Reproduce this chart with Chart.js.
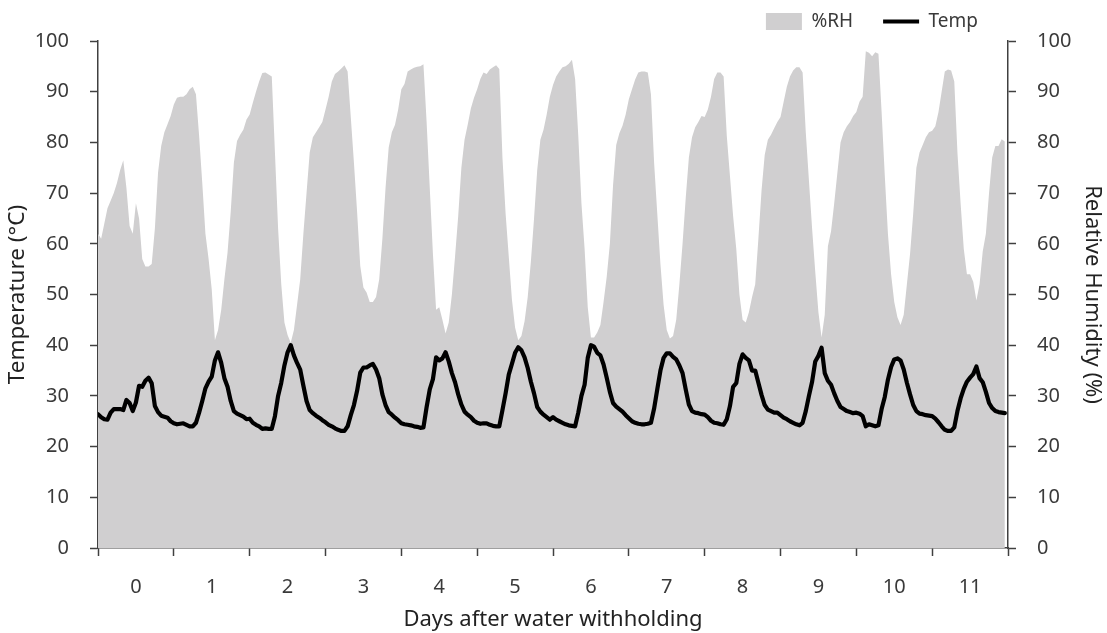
<!DOCTYPE html>
<html>
<head>
<meta charset="utf-8">
<script src="https://cdn.jsdelivr.net/npm/chart.js@4.4.0/dist/chart.umd.min.js"></script>
<style>
html,body{margin:0;padding:0;background:#ffffff;}
#wrap{width:1107px;height:633px;}
</style>
</head>
<body>
<div id="wrap"><canvas id="c" width="1107" height="633"></canvas></div>
<script>
// ---- Data (hourly readings, day 0 .. day 11) ----
const dayLabels = ['0','1','2','3','4','5','6','7','8','9','10','11'];

const rhDay0  = [62,61,64,67,68.5,70,72,74.5,76.5,71,63.5,62,68,65,57,55.5,55.5,56,63,74,79.3,82,83.6,85.2];
const rhDay1  = [87.5,88.8,89,89,89.5,90.5,91,89.5,81.3,72,62,57,51,41,43,47,53,58.3,66.3,76,80.3,81.5,82.5,84.5];
const rhDay2  = [85.5,87.8,90,92,93.7,93.8,93.4,93,78,63,52,44.5,42,40.5,43,48,53,62,70,78,81,82,83,84];
const rhDay3  = [86.5,89,92,93.5,94,94.6,95.2,94,85,76,66.3,55.6,51.4,50.4,48.5,48.5,49.5,53,61,71,79,82,83.5,86.5];
const rhDay4  = [90.5,91.5,94,94.4,94.7,94.9,95,95.4,84,71,58,47,47.5,45,42.3,44.5,50,57.5,65.5,75,80.5,83.5,86.7,88.8];
const rhDay5  = [90.5,92.5,93.8,93.5,94.4,94.8,95.2,94.5,77,66,57.5,49,43.5,41,41.8,44.7,49.5,56.5,65,74.5,80.5,82.5,85.5,89];
const rhDay6  = [91.3,93,94,94.8,95,95.5,96.3,92.5,81.3,68,59,47.5,41.5,41.5,42.5,44,48.5,53.5,60,71.5,79.5,81.8,83.3,85.5];
const rhDay7  = [88.5,90.5,92.4,93.8,94,94,93.8,89.5,76,66,56,48,43,41.3,41.8,45,52,60,69,77,81,83,84,85.2];
const rhDay8  = [85,86.5,89,92.5,93.8,93.8,93,81.3,73.4,65.5,59,50,45,44.5,46.5,49.5,52,61,70.5,77.5,80.5,81.5,82.8,84];
const rhDay9  = [85,88,91,93,94.2,94.8,94.8,93.8,82,72.5,63,54.5,46.5,41.5,46,59.5,62.5,68,74,80,82,83.2,84,85.2];
const rhDay10 = [86,88,89,98,97.7,97,97.8,97.5,86,73.5,62,54,48.5,45.5,44,46,52,58,66,75,78,79.5,81,82];
const rhDay11 = [82.3,83.2,86,90,94,94.4,94.2,92,78,68,59,54,54,52.5,48.8,52,58.5,62,70,77,79.3,79.3,80.6,80.2];

const tempDay0  = [26.4,25.8,25.4,25.3,26.7,27.4,27.4,27.4,27.2,29.2,28.6,27,28.7,32,31.8,33,33.6,32.5,28,26.8,26.1,25.9,25.7,25];
const tempDay1  = [24.6,24.4,24.5,24.6,24.3,24,24,24.7,26.7,29,31.5,32.8,33.8,37,38.6,36.5,33.5,31.8,29,27,26.5,26.2,25.9,25.4];
const tempDay2  = [25.5,24.7,24.3,24,23.5,23.6,23.5,23.5,26,30,32.6,36,38.6,40,38,36.5,35.2,32,29,27.2,26.6,26.1,25.7,25.2];
const tempDay3  = [24.8,24.3,24,23.6,23.3,23.1,23.1,24,26.2,28.2,31,34.6,35.6,35.6,36,36.3,35.2,33.5,30.3,28.2,26.8,26.3,25.7,25.2];
const tempDay4  = [24.6,24.4,24.3,24.2,24,23.9,23.7,23.8,27.8,31.3,33.3,37.6,37,37.4,38.6,36.8,34.5,32.7,30.3,28.3,26.9,26.3,25.8,25.1];
const tempDay5  = [24.7,24.5,24.6,24.6,24.3,24.1,24,24,27.2,30.5,34.2,36.3,38.5,39.6,39,37.6,35.5,32.8,30.5,27.8,26.9,26.3,25.8,25.3];
const tempDay6  = [25.8,25.3,25,24.7,24.4,24.2,24.1,24,26.7,30,32.2,37.5,40,39.7,38.5,38,36.2,33.6,30.8,28.6,27.9,27.4,26.9,26.2];
const tempDay7  = [25.6,25,24.7,24.5,24.4,24.4,24.5,24.7,27.5,31.3,35,37.5,38.4,38.4,37.7,37.2,36,34.5,31.3,28.3,27,26.7,26.6,26.4];
const tempDay8  = [26.3,25.8,25.1,24.7,24.6,24.4,24.3,25.4,28,31.8,32.5,36.3,38.2,37.5,37,35,35,32.6,30.2,28.2,27.3,27,26.7,26.7];
const tempDay9  = [26.2,25.7,25.4,25,24.7,24.4,24.2,24.7,27,30,32.8,36.8,37.9,39.5,34.5,33,32.2,30.5,29,27.8,27.4,27,26.8,26.6];
const tempDay10 = [26.7,26.5,26,24,24.4,24.2,24,24.2,27.4,29.8,33.2,35.7,37.2,37.4,37,35.2,32.6,30.3,28.2,27,26.5,26.4,26.2,26.1];
const tempDay11 = [26,25.5,24.8,24,23.3,23.1,23.1,23.8,27,29.5,31.4,32.8,33.6,34.3,35.8,33.5,32.7,30.8,28.6,27.6,27,26.8,26.7,26.6];

const rhDays   = [rhDay0,rhDay1,rhDay2,rhDay3,rhDay4,rhDay5,rhDay6,rhDay7,rhDay8,rhDay9,rhDay10,rhDay11];
const tempDays = [tempDay0,tempDay1,tempDay2,tempDay3,tempDay4,tempDay5,tempDay6,tempDay7,tempDay8,tempDay9,tempDay10,tempDay11];

// hourly readings -> {x: day + hour/24, y: value}
function toPoints(days) {
  const pts = [];
  days.forEach((arr, d) => arr.forEach((v, h) => pts.push({x: d + h / 24, y: v})));
  return pts;
}

const TXT = "'Noto Sans', 'Open Sans', sans-serif";
const NUM = "'Noto Sans', sans-serif";
const AXIS = '#404040';
const LABEL = '#3a3a3a';

new Chart(document.getElementById('c'), {
  type: 'line',
  data: {
    datasets: [
      {
        label: '%RH',
        data: toPoints(rhDays),
        yAxisID: 'yR',
        backgroundColor: '#d0cfd0',
        borderColor: '#d0cfd0',
        borderWidth: 0,
        fill: 'origin',
        pointRadius: 0,
        pointStyle: 'rect',
        tension: 0,
        order: 2
      },
      {
        label: 'Temp',
        data: toPoints(tempDays),
        yAxisID: 'y',
        backgroundColor: '#000000',
        borderColor: '#000000',
        borderWidth: 4.2,
        borderJoinStyle: 'round',
        borderCapStyle: 'round',
        fill: false,
        pointRadius: 0,
        pointStyle: 'line',
        tension: 0,
        order: 1
      }
    ]
  },
  options: {
    responsive: false,
    animation: false,
    devicePixelRatio: 1,
    layout: {padding: {top: -18, left: 0, right: 0, bottom: 0}},
    plugins: {
      tooltip: {enabled: false},
      legend: {
        position: 'top',
        align: 'end',
        fullSize: false,
        labels: {
          usePointStyle: true,
          pointStyleWidth: 36,
          boxHeight: 17,
          padding: 30,
          color: LABEL,
          font: {family: TXT, size: 19},
          sort: (a, b) => a.datasetIndex - b.datasetIndex
        }
      }
    },
    scales: {
      x: {
        type: 'linear',
        min: 0,
        max: 12,
        afterFit: s => { s.height = 85; },
        ticks: {
          stepSize: 0.5,
          autoSkip: false,
          maxRotation: 0,
          padding: 19,
          color: LABEL,
          font: {family: NUM, size: 20},
          callback: v => (Math.abs(v % 1 - 0.5) < 1e-6) ? dayLabels[Math.floor(v)] : ''
        },
        grid: {
          drawOnChartArea: false,
          drawTicks: true,
          tickLength: 8,
          tickWidth: 1.5,
          tickColor: c => (c.tick && Math.abs(c.tick.value % 1) < 1e-6) ? AXIS : 'rgba(0,0,0,0)'
        },
        border: {display: true, color: AXIS, width: 1.5},
        title: {
          display: true,
          text: 'Days after water withholding',
          color: '#222222',
          font: {family: TXT, size: 22},
          padding: {top: 0, bottom: 0}
        }
      },
      y: {
        position: 'left',
        min: 0,
        max: 100,
        afterFit: s => { s.width = 98; },
        ticks: {stepSize: 10, padding: 21, color: LABEL, font: {family: NUM, size: 20}},
        grid: {drawOnChartArea: false, tickLength: 8, tickWidth: 1.5, tickColor: AXIS},
        border: {display: true, color: AXIS, width: 1.5},
        title: {
          display: true,
          text: 'Temperature (°C)',
          color: '#222222',
          font: {family: TXT, size: 22.5},
          padding: {top: 4, bottom: 0}
        }
      },
      yR: {
        position: 'right',
        min: 0,
        max: 100,
        afterFit: s => { s.width = 99; },
        ticks: {stepSize: 10, padding: 21, color: LABEL, font: {family: NUM, size: 20}},
        grid: {drawOnChartArea: false, tickLength: 8, tickWidth: 1.5, tickColor: AXIS},
        border: {display: true, color: AXIS, width: 1.5},
        title: {
          display: true,
          text: 'Relative Humidity (%)',
          color: '#222222',
          font: {family: TXT, size: 22},
          padding: {top: 2, bottom: 0}
        }
      }
    }
  }
});
</script>
</body>
</html>
